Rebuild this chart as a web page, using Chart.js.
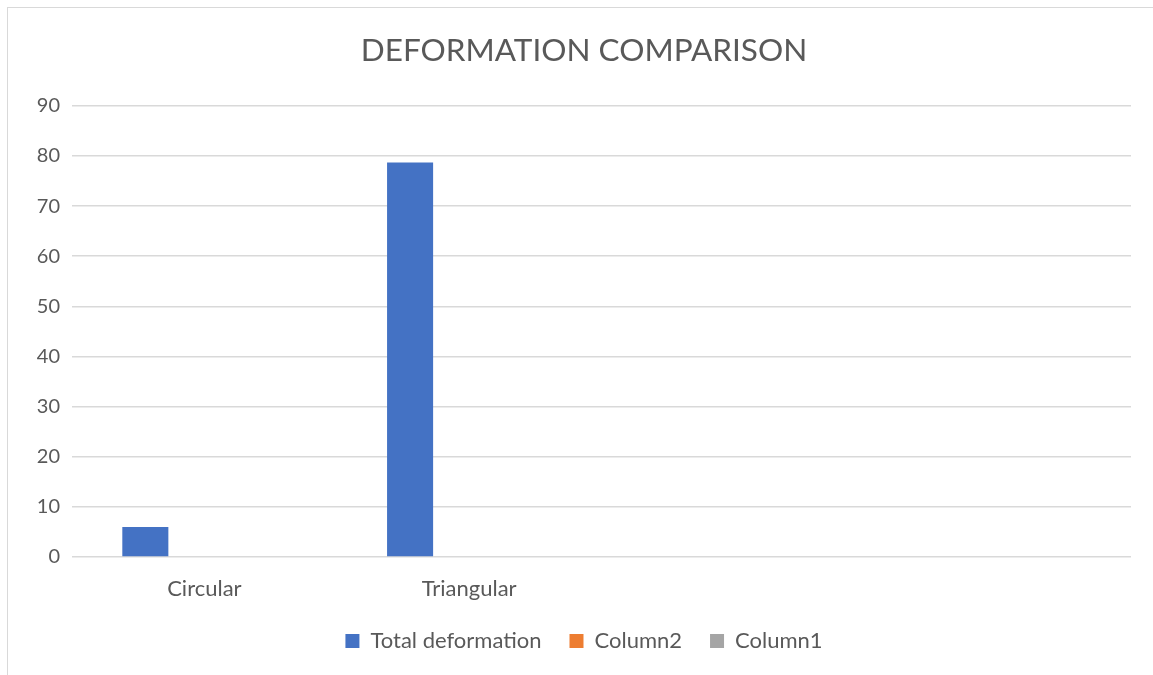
<!DOCTYPE html>
<html>
<head>
<meta charset="utf-8">
<script src="https://cdn.jsdelivr.net/npm/chart.js@4/dist/chart.umd.min.js"></script>
<style>
  html, body { margin: 0; padding: 0; background: #fff; }
  #wrap { position: relative; width: 1153px; height: 675px; overflow: hidden; }
  #frame { position: absolute; left: 7px; top: 7px; width: 1160px; height: 680px; border: 1px solid #d9d9d9; box-sizing: border-box; }
  canvas { position: absolute; left: 0; top: 0; }
</style>
</head>
<body>
<div id="wrap">
  <div id="frame"></div>
  <canvas id="chart" width="1153" height="675"></canvas>
</div>
<script>
// chart data
const categories = ['Circular', 'Triangular', '', ''];
const totalDeformation = [6.0, 78.7, null, null];
const column2 = [null, null, null, null];
const column1 = [null, null, null, null];
const yTicks = [0, 10, 20, 30, 40, 50, 60, 70, 80, 90];

const textColor = '#595959';
const gridColor = '#d9d9d9';
const fontFamily = 'Lato, "Open Sans", sans-serif';

const ctx = document.getElementById('chart').getContext('2d');
new Chart(ctx, {
    type: 'bar',
    data: {
        labels: categories,
        datasets: [
            { label: 'Total deformation', data: totalDeformation, backgroundColor: '#4472c4' },
            { label: 'Column2', data: column2, backgroundColor: '#ed7d31' },
            { label: 'Column1', data: column1, backgroundColor: '#a5a5a5' }
        ]
    },
    options: {
        responsive: false,
        animation: false,
        categoryPercentage: 0.669,
        barPercentage: 0.78,
        layout: {
            padding: { left: 37, right: 22, top: 0, bottom: 13 }
        },
        scales: {
            x: {
                grid: { display: false, drawTicks: false },
                border: { display: false },
                ticks: {
                    color: textColor,
                    padding: 19,
                    font: { family: fontFamily, size: 22 }
                },
                afterFit: function(scale) { scale.height = 45; }
            },
            y: {
                min: 0,
                max: 90,
                grid: { color: gridColor, lineWidth: 1.5, drawTicks: false },
                border: { display: false },
                afterBuildTicks: function(scale) {
                    scale.ticks = yTicks.map(v => ({ value: v }));
                },
                ticks: {
                    color: textColor,
                    padding: 12,
                    font: { family: fontFamily, size: 20 }
                },
                afterFit: function(scale) { scale.width = 35; }
            }
        },
        plugins: {
            title: {
                display: true,
                text: 'DEFORMATION COMPARISON',
                color: textColor,
                font: { family: fontFamily, size: 31.5, weight: 'normal' },
                padding: { top: 32, bottom: 36 }
            },
            legend: {
                position: 'bottom',
                labels: {
                    color: textColor,
                    boxWidth: 14,
                    boxHeight: 14,
                    padding: 28,
                    font: { family: fontFamily, size: 22 }
                }
            },
            tooltip: { enabled: false }
        }
    }
});
</script>
</body>
</html>
